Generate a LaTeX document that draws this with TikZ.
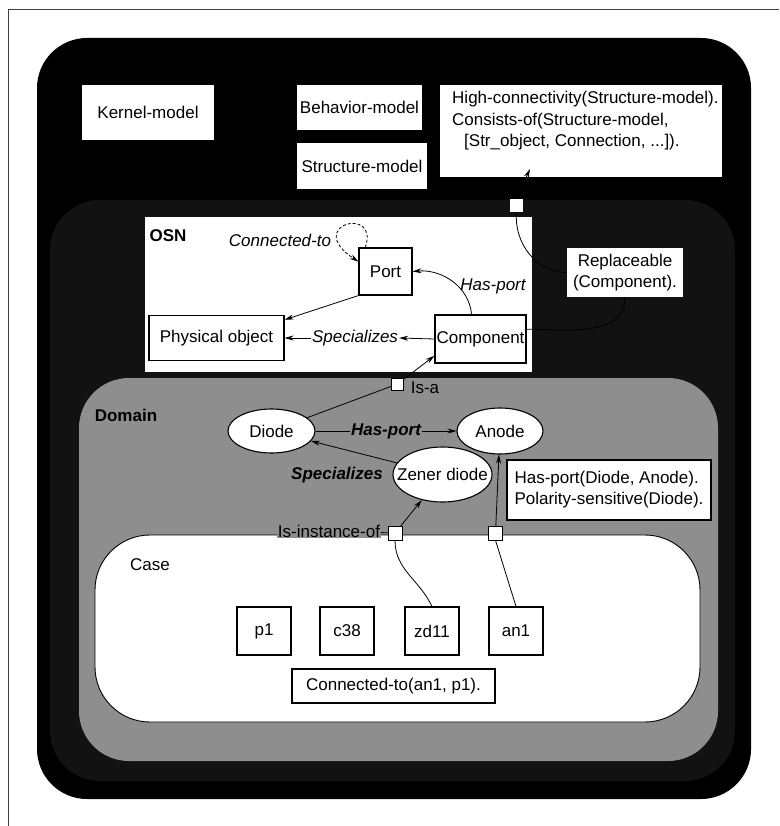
\documentclass[tikz,border=0pt]{standalone}
\usepackage{fontspec}
\setmainfont{Liberation Sans}
\usetikzlibrary{arrows.meta,shapes.geometric}

\definecolor{structdark}{HTML}{121212}
\definecolor{domgray}{HTML}{8E8E8E}

\begin{document}
\begin{tikzpicture}[x=1pt,y=-1pt,
  font=\fontsize{17}{21}\selectfont,
  whitebox/.style={rectangle,draw=none,fill=white,inner sep=0pt},
  objbox/.style={rectangle,draw=black,line width=1.1pt,fill=white,inner sep=0pt},
  concept/.style={ellipse,draw=black,line width=1.1pt,fill=white,inner sep=0pt},
  linkbox/.style={rectangle,draw=black,line width=0.8pt,fill=white,inner sep=0pt},
  rel/.style={line width=0.8pt,-{Stealth[length=9pt,width=5pt]}},
  plain/.style={line width=0.8pt},
  rellabel/.style={font=\fontsize{17}{21}\selectfont\itshape,inner sep=1pt},
  domlabel/.style={font=\fontsize{17}{21}\selectfont\bfseries\itshape,inner sep=1pt},
]
\useasboundingbox (0,0) rectangle (779,826);
\fill[white] (0,0) rectangle (779,826);

% page frame
\draw[line width=0.8pt,black!75] (8,826) -- (8,9) -- (779,9);

% nested model regions
\fill[black,rounded corners=50pt] (37,38) rectangle (751,799);
\fill[structdark,rounded corners=50pt] (50,200) rectangle (735,781);
\fill[domgray,rounded corners=50pt] (79,378) rectangle (718,761);
\filldraw[fill=white,draw=black,line width=0.9pt,rounded corners=55pt] (95,535) rectangle (700,722);

% kernel level
\node[whitebox,minimum width=132pt,minimum height=55pt] (kernel) at (148,112.5) {Kernel-model};
\node[whitebox,minimum width=125pt,minimum height=45pt] (behav) at (359.5,107.5) {Behavior-model};
\node[whitebox,minimum width=130pt,minimum height=46pt] (struct) at (362,166) {Structure-model};
\node[whitebox,anchor=north west] (hcnote) at (440,85)
  {\parbox[c][92pt][t]{282pt}{\baselineskip=21.5pt\vspace*{6pt}%
   \hspace*{12pt}High-connectivity(Structure-model).\\
   \hspace*{12pt}Consists-of(Structure-model,\\
   \hspace*{24pt}[Str\_object, Connection, ...]).}};

% OSN
\node[whitebox,minimum width=387pt,minimum height=155pt] (osn) at (338.5,294.5) {};
\node[font=\fontsize{17}{21}\selectfont\bfseries] (osnlbl) at (168,236) {OSN};
\node[objbox,minimum width=53pt,minimum height=47pt] (port) at (385.5,271.5) {Port};
\node[objbox,minimum width=135pt,minimum height=45pt] (phys) at (216.5,338) {Physical object};
\node[objbox,minimum width=91pt,minimum height=48pt] (comp) at (480.5,339) {Component};
\node[rellabel] (osnspec) at (355,338) {Specializes};
\node[rellabel] (osnhas) at (493,286) {Has-port};
\node[rellabel] (osncon) at (280,240) {Connected-to};
\node[whitebox,minimum width=116pt,minimum height=49pt,align=center] (repl) at (625,272.5) {Replaceable\\(Component).};

% link squares
\node[linkbox,draw=none,minimum size=13pt] (sqa) at (516.5,205.5) {};
\node[linkbox,minimum size=12pt] (sqb) at (397.5,384) {};
\node[linkbox,minimum size=14pt] (sqc) at (395,533) {};
\node[linkbox,minimum size=14pt] (sqd) at (495.5,533) {};
\coordinate (hctip) at (530,169);

% domain
\node[font=\fontsize{17}{21}\selectfont\bfseries] (domlbl) at (126,415) {Domain};
\node[concept,minimum width=87pt,minimum height=44pt] (diode) at (271.5,431) {\makebox[0pt]{Diode}};
\node[concept,minimum width=86pt,minimum height=46pt] (anode) at (500,431) {\makebox[0pt]{Anode}};
\node[concept,minimum width=99pt,minimum height=55pt] (zener) at (442.5,474.5) {\makebox[0pt]{Zener diode}};
\node[domlabel,fill=domgray] (dhas) at (386,431) {Has-port};
\node[domlabel] (dspec) at (337,475) {Specializes};
\node[inner sep=1pt] (isa) at (425,388) {Is-a};
\node[objbox,minimum width=204pt,minimum height=60pt,align=left] (hpnote) at (609,490)
  {Has-port(Diode, Anode).\\Polarity-sensitive(Diode).};
\node[fill=domgray,inner sep=1pt] (isinst) at (329,531) {Is-instance-of};

% case
\node (caselbl) at (150,565) {Case};
\node[objbox,minimum width=54pt,minimum height=48pt] (p1) at (264,631) {p1};
\node[objbox,minimum width=54pt,minimum height=48pt] (c38) at (347,631) {c38};
\node[objbox,minimum width=54pt,minimum height=48pt] (zd11) at (432,631) {zd11};
\node[objbox,minimum width=54pt,minimum height=48pt] (an1) at (516,631) {an1};
\node[objbox,minimum width=203pt,minimum height=34pt] (conn) at (393.5,686) {Connected-to(an1, p1).};

% connectors in OSN
\draw[rel,dash pattern=on 3pt off 2pt] (port.130) .. controls (380,205) and (303,225) .. (port.160);
\draw[rel] (port.south west) -- (phys.15);
\draw[rel] (comp.west) -- (osnspec.east);
\draw[rel] (osnspec.west) -- (phys.east);
\draw[rel] (comp.110) to[out=95,in=5] (port.east);
\draw[plain] (comp.12) to[out=0,in=-90] (repl.south);

% structure-model links
\draw[rel] (sqa.north) -- (hctip);
\draw[plain] (sqa.south) to[out=-95,in=180] (repl.west);

% domain connectors
\draw[plain] (diode) -- (sqb);
\draw[rel] (sqb) -- (comp.200);
\draw[plain] (diode) -- (dhas);
\draw[rel] (dhas) -- (anode);
\draw[rel] (zener) -- (diode);
\draw[rel] (sqc) -- (zener);
\draw[rel] (sqd) -- (anode);

% instance links
\draw[plain] (isinst) -- (sqc);
\draw[plain] (sqc.south) to[out=-90,in=115] (zd11.north);
\draw[plain] (sqd.south) -- (an1.north);
\end{tikzpicture}
\end{document}
